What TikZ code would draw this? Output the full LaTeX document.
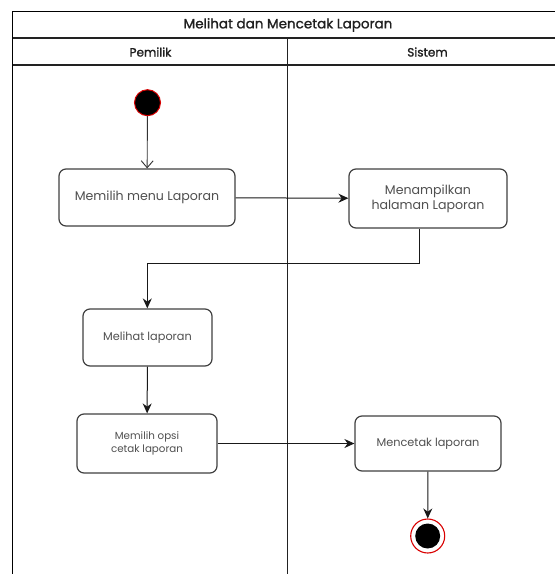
\documentclass[tikz,border=0pt]{standalone}
\usepackage{fontspec}
\setmainfont{Poppins}
\newfontfamily\headfont[FakeBold=1.3]{Poppins}
\usetikzlibrary{arrows.meta,positioning}
\definecolor{boxline}{HTML}{404040}
\definecolor{boxtext}{HTML}{505050}
\definecolor{laneline}{HTML}{222222}
\tikzset{
  act/.style={draw=boxline, line width=1.2pt, rounded corners=7pt, fill=white,
              text=boxtext, align=center, inner sep=0pt},
  flow/.style={draw=black!90, line width=1pt, -{Stealth[length=10pt,width=9pt]}},
  openflow/.style={draw=black!80, line width=0.9pt, -{Straight Barb[length=7pt,width=12pt]}},
  lane/.style={draw=laneline, line width=1.5pt},
  head/.style={text=black!88, font=\headfont\fontsize{#1}{15}\selectfont},
}
\begin{document}
\begin{tikzpicture}[x=1pt,y=-1pt]
  \useasboundingbox (0,0) rectangle (555,574);
  \begin{scope}
    \clip (0,0) rectangle (555,574);
    % swimlane frame
    \draw[line width=1.4pt, black] (12.5,580) -- (12.5,11.5) -- (560,11.5);
    \draw[lane] (12.5,38) -- (560,38);
    \draw[lane] (12.5,65) -- (560,65);
    \draw[lane] (287.5,38) -- (287.5,580);
  \end{scope}
  \node[head=13.5] (title) at (288,25) {Melihat dan Mencetak Laporan};
  \node[head=12] (pemilik) at (150.5,52) {Pemilik};
  \node[head=12] (sistem) at (427.5,52) {Sistem};

  % start state
  \node[circle, fill=black, draw=red!85!black, line width=1pt, minimum size=26pt, inner sep=0pt] (start) at (147.5,102.7) {};

  % activities
  \node[act, minimum width=176pt, minimum height=57pt, font=\fontsize{12.6}{14}\selectfont] (a1) at (147,197.5) {Memilih menu Laporan};
  \node[act, minimum width=158pt, minimum height=59pt, font=\fontsize{12.6}{15}\selectfont] (a2) at (428,198.5) {Menampilkan\\halaman Laporan};
  \node[act, minimum width=129pt, minimum height=57pt, font=\fontsize{11.3}{12}\selectfont] (a3) at (147.5,337.5) {Melihat laporan};
  \node[act, minimum width=140pt, minimum height=59pt, font=\fontsize{10.3}{12.5}\selectfont] (a4) at (147,443.5) {Memilih opsi\\cetak laporan};
  \node[act, minimum width=146pt, minimum height=55pt, font=\fontsize{11.3}{12.5}\selectfont] (a5) at (428,443.5) {Mencetak laporan};

  % final state
  \node[circle, draw=red!85!black, line width=1.1pt, fill=white, minimum size=34pt, inner sep=0pt] (final) at (427.7,536) {};
  \node[circle, fill=black, minimum size=25pt, inner sep=0pt] (finalcore) at (final.center) {};

  % transitions
  \coordinate (b1) at (419.3,263);
  \coordinate (b2) at (147.3,263);
  \draw[openflow] (start) -- (a1);
  \draw[flow] (a1) -- (a2);
  \draw[flow] (a2.south -| b1) -- (b1) -- (b2) -- (b2 |- a3.north);
  \draw[flow] (a3) -- (a4);
  \draw[flow] (a4.east) -- (a5.west);
  \draw[flow] (a5) -- (final);
\end{tikzpicture}
\end{document}
